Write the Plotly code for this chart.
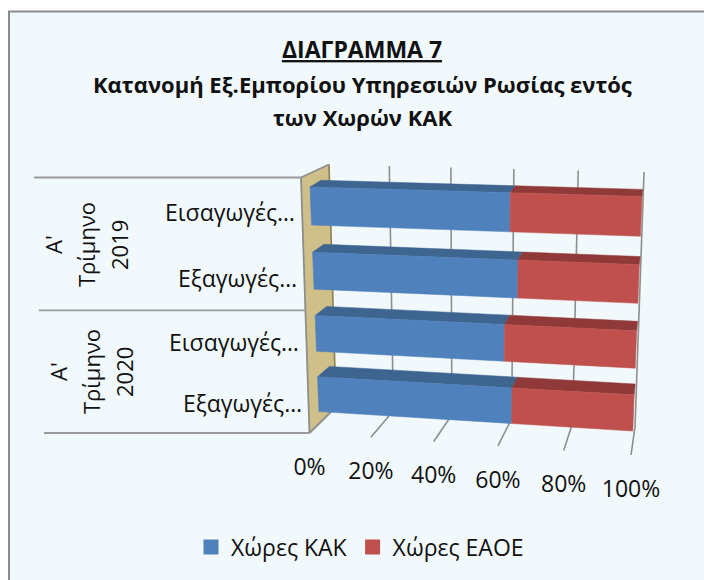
import numpy as np
import plotly.graph_objects as go

# ---------- data ----------
title_lines = ["Κατανομή Εξ.Εμπορίου Υπηρεσιών Ρωσίας εντός", "των Χωρών ΚΑΚ"]
title_main = "ΔΙΑΓΡΑΜΜΑ 7"
bar_labels = ["Εισαγωγές…", "Εξαγωγές…", "Εισαγωγές…", "Εξαγωγές…"]
group_labels = [["Α'", "Τρίμηνο", "2019"], ["Α'", "Τρίμηνο", "2020"]]
series_kak = [61.5, 64, 60, 62.5]
series_eaoe = [38.5, 36, 40, 37.5]
name_kak = "Χώρες ΚΑΚ"
name_eaoe = "Χώρες ΕΑΟΕ"
ticks = [0, 20, 40, 60, 80, 100]
tick_labels = ["0%", "20%", "40%", "60%", "80%", "100%"]

FONT = "Open Sans"
INK = "#111111"
BG = "#F2F9FC"
GRID = "#8E8E8E"


# ---------- the 3D-look projection: (value, slot) -> page pixels ----------
def homography(tl, tr, bl, br):
    src = [(0, 4), (100, 4), (0, 0), (100, 0)]
    dst = [tl, tr, bl, br]
    A, b = [], []
    for (u, v), (x, y) in zip(src, dst):
        A.append([u, v, 1, 0, 0, 0, -u * x, -v * x])
        A.append([0, 0, 0, u, v, 1, -u * y, -v * y])
        b += [x, y]
    h = np.linalg.solve(np.array(A, float), np.array(b, float))
    H = np.append(h, 1).reshape(3, 3)

    def project(u, v):
        p = H @ np.array([u, v, 1.0])
        return p[0] / p[2], p[1] / p[2]

    return project


bar_front = homography((309.4, 173), (642.6, 181.8), (319.4, 424), (632.3, 444))
bar_back = homography((320.4, 166.5), (643.3, 175), (331.4, 412.5), (633.3, 432))
wall_back = homography((329, 164.5), (644, 172), (336, 407), (635, 427))
floor_front = homography((301, 177.5), (650, 185), (309.5, 433), (631, 455))

SLOT_HALF = 0.29


def polys(pieces):
    xs, ys = [], []
    for piece in pieces:
        for x, y in piece + [piece[0]]:
            xs.append(x)
            ys.append(y)
        xs.append(None)
        ys.append(None)
    return xs, ys


fig = go.Figure()


def fill_trace(pieces, color):
    xs, ys = polys(pieces)
    fig.add_trace(go.Scatter(x=xs, y=ys, mode="lines", fill="toself", fillcolor=color,
                             line=dict(color=color, width=0.5), hoverinfo="skip", showlegend=False))


def line_trace(pieces, color=GRID, width=1.6):
    xs, ys = [], []
    for a, b in pieces:
        xs += [a[0], b[0], None]
        ys += [a[1], b[1], None]
    fig.add_trace(go.Scatter(x=xs, y=ys, mode="lines", line=dict(color=color, width=width),
                             hoverinfo="skip", showlegend=False))


# gridlines on the back wall and the floor
line_trace([(wall_back(t, 4), wall_back(t, 0)) for t in ticks[1:]])
line_trace([(wall_back(t, 0), floor_front(t, 0)) for t in ticks[1:]])

# side wall
wall = [wall_back(0, 4), wall_back(0, 0), floor_front(0, 0), floor_front(0, 4)]
fill_trace([wall], "#CFBF88")
line_trace([(wall[0], wall[1])], "#8A8052", 1.6)
line_trace([(wall[1], wall[2]), (wall[2], wall[3]), (wall[3], wall[0])], GRID, 1.8)

# separators of the category groups
left_ends = [34, 39, 44]
for c, x_end in zip([4, 2, 0], left_ends):
    edge = floor_front(0, c)
    line_trace([((x_end, edge[1]), edge)], "#9A9A9A", 1.8)

# stacked bars
n = len(series_kak)
front_k, front_e, top_k, top_e = [], [], [], []
for i in range(n):
    c = n - 1 - i + 0.5
    hi, lo = c + SLOT_HALF, c - SLOT_HALF
    k = series_kak[i]
    e = k + series_eaoe[i]
    front_k.append([bar_front(0, hi), bar_front(k, hi), bar_front(k, lo), bar_front(0, lo)])
    front_e.append([bar_front(k, hi), bar_front(e, hi), bar_front(e, lo), bar_front(k, lo)])
    top_k.append([bar_front(0, hi), bar_front(k, hi), bar_back(k, hi), bar_back(0, hi)])
    top_e.append([bar_front(k, hi), bar_front(e, hi), bar_back(e, hi), bar_back(k, hi)])
fill_trace(top_k, "#3D6590")
fill_trace(top_e, "#8F3A38")
fill_trace(front_k, "#4F81BD")
fill_trace(front_e, "#C0504D")

# value tick labels under the floor
tick_pts = [floor_front(t, 0) for t in ticks]
fig.add_trace(go.Scatter(x=[p[0] for p in tick_pts], y=[p[1] + 36 for p in tick_pts], mode="text",
                         text=tick_labels, textposition="middle center",
                         textfont=dict(family=FONT, size=23, color=INK),
                         hoverinfo="skip", showlegend=False))

# legend entries
for name, color in [(name_kak, "#4F81BD"), (name_eaoe, "#C0504D")]:
    fig.add_trace(go.Scatter(x=[None], y=[None], mode="markers", name=name,
                             marker=dict(symbol="square", size=15, color=color)))

annotations = []
# bar category labels, right-aligned against the wall edge
for i, label in enumerate(bar_labels):
    c = n - 1 - i + 0.5
    ex, ey = floor_front(0, c)
    annotations.append(dict(x=ex - 5, y=ey, text=label, xref="x", yref="y", showarrow=False,
                            xanchor="right", yanchor="middle",
                            font=dict(family=FONT, size=23, color=INK)))
# rotated group labels
for (x_first, y_mid), lines in zip([(53, 245), (58, 372)], group_labels):
    for j, line in enumerate(lines):
        annotations.append(dict(x=x_first + 33 * j, y=y_mid, text=line, xref="x", yref="y",
                                showarrow=False, textangle=-90, xanchor="center", yanchor="middle",
                                font=dict(family=FONT, size=22, color=INK)))
# further title lines
for y_pos, line in zip([84, 117], title_lines):
    annotations.append(dict(x=362, y=y_pos, text=f"<b>{line}</b>", xref="x", yref="y", showarrow=False,
                            xanchor="center", yanchor="middle",
                            font=dict(family=FONT, size=22, color=INK)))

W, H = 704, 580
fig.update_layout(
    width=W, height=H,
    margin=dict(l=0, r=0, t=0, b=0),
    paper_bgcolor="white", plot_bgcolor="rgba(0,0,0,0)",
    xaxis=dict(range=[0, W], visible=False, domain=[0, 1], fixedrange=True),
    yaxis=dict(range=[H, 0], visible=False, domain=[0, 1], fixedrange=True),
    title=dict(text=f"<b><u>{title_main}</u></b>", x=362 / W, xanchor="center", xref="paper",
               y=1 - 50 / H, yanchor="middle", yref="paper",
               font=dict(family=FONT, size=23, color=INK)),
    legend=dict(orientation="h", x=360 / W, xanchor="center",
                y=1 - 547 / H, yanchor="middle",
                font=dict(family=FONT, size=23, color=INK), bgcolor="rgba(0,0,0,0)"),
    shapes=[dict(type="rect", xref="x", yref="y", x0=9, y0=11.5, x1=720, y1=600,
                 fillcolor=BG, line=dict(color="#8C8C8C", width=2), layer="below")],
    annotations=annotations,
    showlegend=True,
)
fig.write_html(
    "out.html",
    config={"displayModeBar": False},
    post_script="document.body.style.margin='0';document.documentElement.style.overflow='hidden';",
)
